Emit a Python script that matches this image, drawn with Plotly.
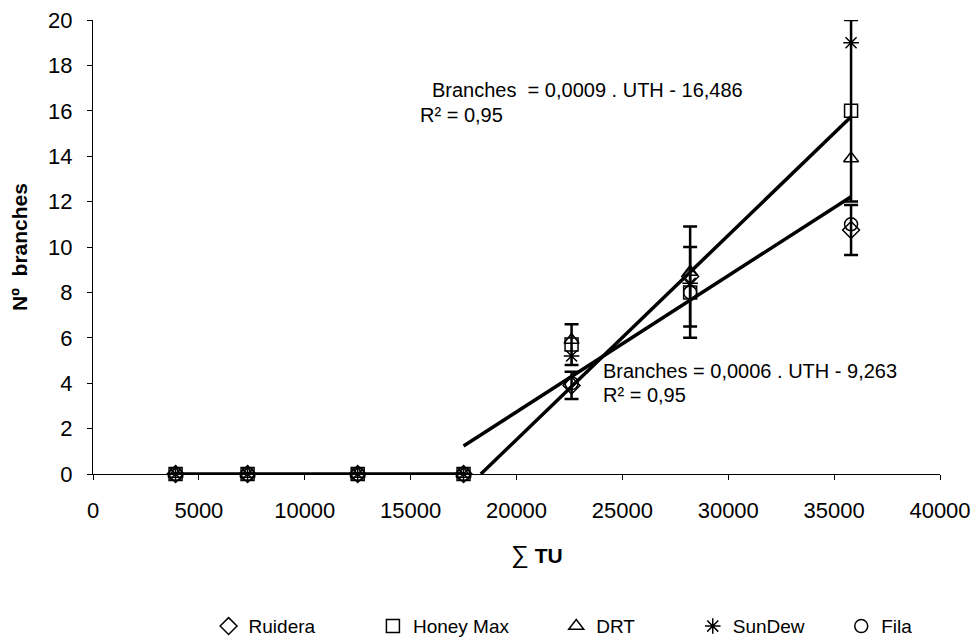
import plotly.graph_objects as go

# Data
tu = [3900, 7300, 12500, 17500, 22600, 28200, 35800]
series_names = ["Ruidera", "Honey Max", "DRT", "SunDew", "Fila"]
ruidera = [0, 0, 0, 0, 3.9, 8.7, 10.75]
honey_max = [0, 0, 0, 0, 5.7, 8.0, 16.0]
drt = [0, 0, 0, 0, 5.9, 8.9, 13.9]
sundew = [0, 0, 0, 0, 5.2, 8.4, 19.0]
fila = [0, 0, 0, 0, 4.0, 8.0, 11.0]
ruidera_err = [0, 0, 0, 0, 0.6, 2.2, 1.1]
honey_err = [0, 0, 0, 0, 0.9, 2.0, 4.0]

x_ticks = [0, 5000, 10000, 15000, 20000, 25000, 30000, 35000, 40000]
x_ticktext = ["0", "5000", "10000", "15000", "20000", "25000", "30000", "35000", "40000"]
y_ticks = [0, 2, 4, 6, 8, 10, 12, 14, 16, 18, 20]

# Regression equations (slope, intercept)
reg1 = (0.0009, -16.486)
reg2 = (0.0006, -9.263)

symbols = ["diamond-open", "square-open", "triangle-up-open", "asterisk-open", "circle-open"]
values = [ruidera, honey_max, drt, sundew, fila]
errors = [ruidera_err, honey_err, None, None, None]
legend_pad = [10, 8, 10, 6, 0]

font = "Liberation Sans, Arial, sans-serif"
fig = go.Figure()

# zero segment line
zero_x = tu[:4]
fig.add_trace(go.Scatter(x=zero_x, y=[0] * len(zero_x), mode="lines",
                         line=dict(color="black", width=3.5), showlegend=False, hoverinfo="skip"))

# regression lines
x1_start = -reg1[1] / reg1[0]
x_end = tu[-1]
fig.add_trace(go.Scatter(x=[x1_start, x_end],
                         y=[reg1[0] * x1_start + reg1[1], reg1[0] * x_end + reg1[1]],
                         mode="lines", line=dict(color="black", width=3.5), showlegend=False))
x2_start = tu[3]
fig.add_trace(go.Scatter(x=[x2_start, x_end],
                         y=[reg2[0] * x2_start + reg2[1], reg2[0] * x_end + reg2[1]],
                         mode="lines", line=dict(color="black", width=3.5), showlegend=False))

for name, vals, sym, err, pad in zip(series_names, values, symbols, errors, legend_pad):
    kw = {}
    if err is not None:
        kw["error_y"] = dict(type="data", array=err, visible=True, color="black", thickness=2.5, width=7)
    fig.add_trace(go.Scatter(x=tu, y=vals, mode="markers", name=name + "\u00a0" * pad,
                             marker=dict(symbol=sym, size=13, color="black",
                                         line=dict(color="black", width=1.5)),
                             cliponaxis=False, **kw))

fig.update_layout(
    width=973, height=639,
    paper_bgcolor="white", plot_bgcolor="white",
    margin=dict(l=93, r=33, t=20, b=165),
    font=dict(family=font, size=21, color="black"),
    xaxis=dict(range=[0, 40000], tickvals=x_ticks, ticktext=x_ticktext, automargin=False,
               showgrid=False, zeroline=False, showline=True, linecolor="black", linewidth=1,
               ticks="outside", ticklen=5, tickcolor="black", tickfont=dict(size=22),
               ticklabelstandoff=12),
    yaxis=dict(range=[0, 20], tickvals=y_ticks, automargin=False,
               showgrid=False, zeroline=False, showline=True, linecolor="black", linewidth=1,
               ticks="outside", ticklen=5, tickcolor="black", tickfont=dict(size=22),
               ticklabelstandoff=10,
               title=dict(text="<b>Nº  branches</b>", font=dict(size=21), standoff=14)),
    legend=dict(orientation="h", x=0.555, xanchor="center", yref="container", y=0.02, yanchor="middle",
                font=dict(size=19), itemwidth=30, bgcolor="rgba(0,0,0,0)"),
    showlegend=True,
)

# x-axis title
fig.add_annotation(x=0.524, y=-0.178, xref="paper", yref="paper", xanchor="center", yanchor="middle",
                   text="<span style='font-size:25px'>∑</span> <b>TU</b>", showarrow=False,
                   font=dict(size=21))

fig.add_annotation(x=15900, y=16.9, xref="x", yref="y", xanchor="left", yanchor="middle",
                   text="Branches  = 0,0009 . UTH - 16,486", showarrow=False, font=dict(size=20))
fig.add_annotation(x=15350, y=15.8, xref="x", yref="y", xanchor="left", yanchor="middle",
                   text="R² = 0,95", showarrow=False, font=dict(size=20))
fig.add_annotation(x=23990, y=4.55, xref="x", yref="y", xanchor="left", yanchor="middle",
                   text="Branches = 0,0006 . UTH - 9,263", showarrow=False, font=dict(size=20))
fig.add_annotation(x=23990, y=3.5, xref="x", yref="y", xanchor="left", yanchor="middle",
                   text="R² = 0,95", showarrow=False, font=dict(size=20))

fig.write_html("out.html", config={"displayModeBar": False},
               post_script="document.body.style.margin='0';document.body.style.overflow='hidden';")
